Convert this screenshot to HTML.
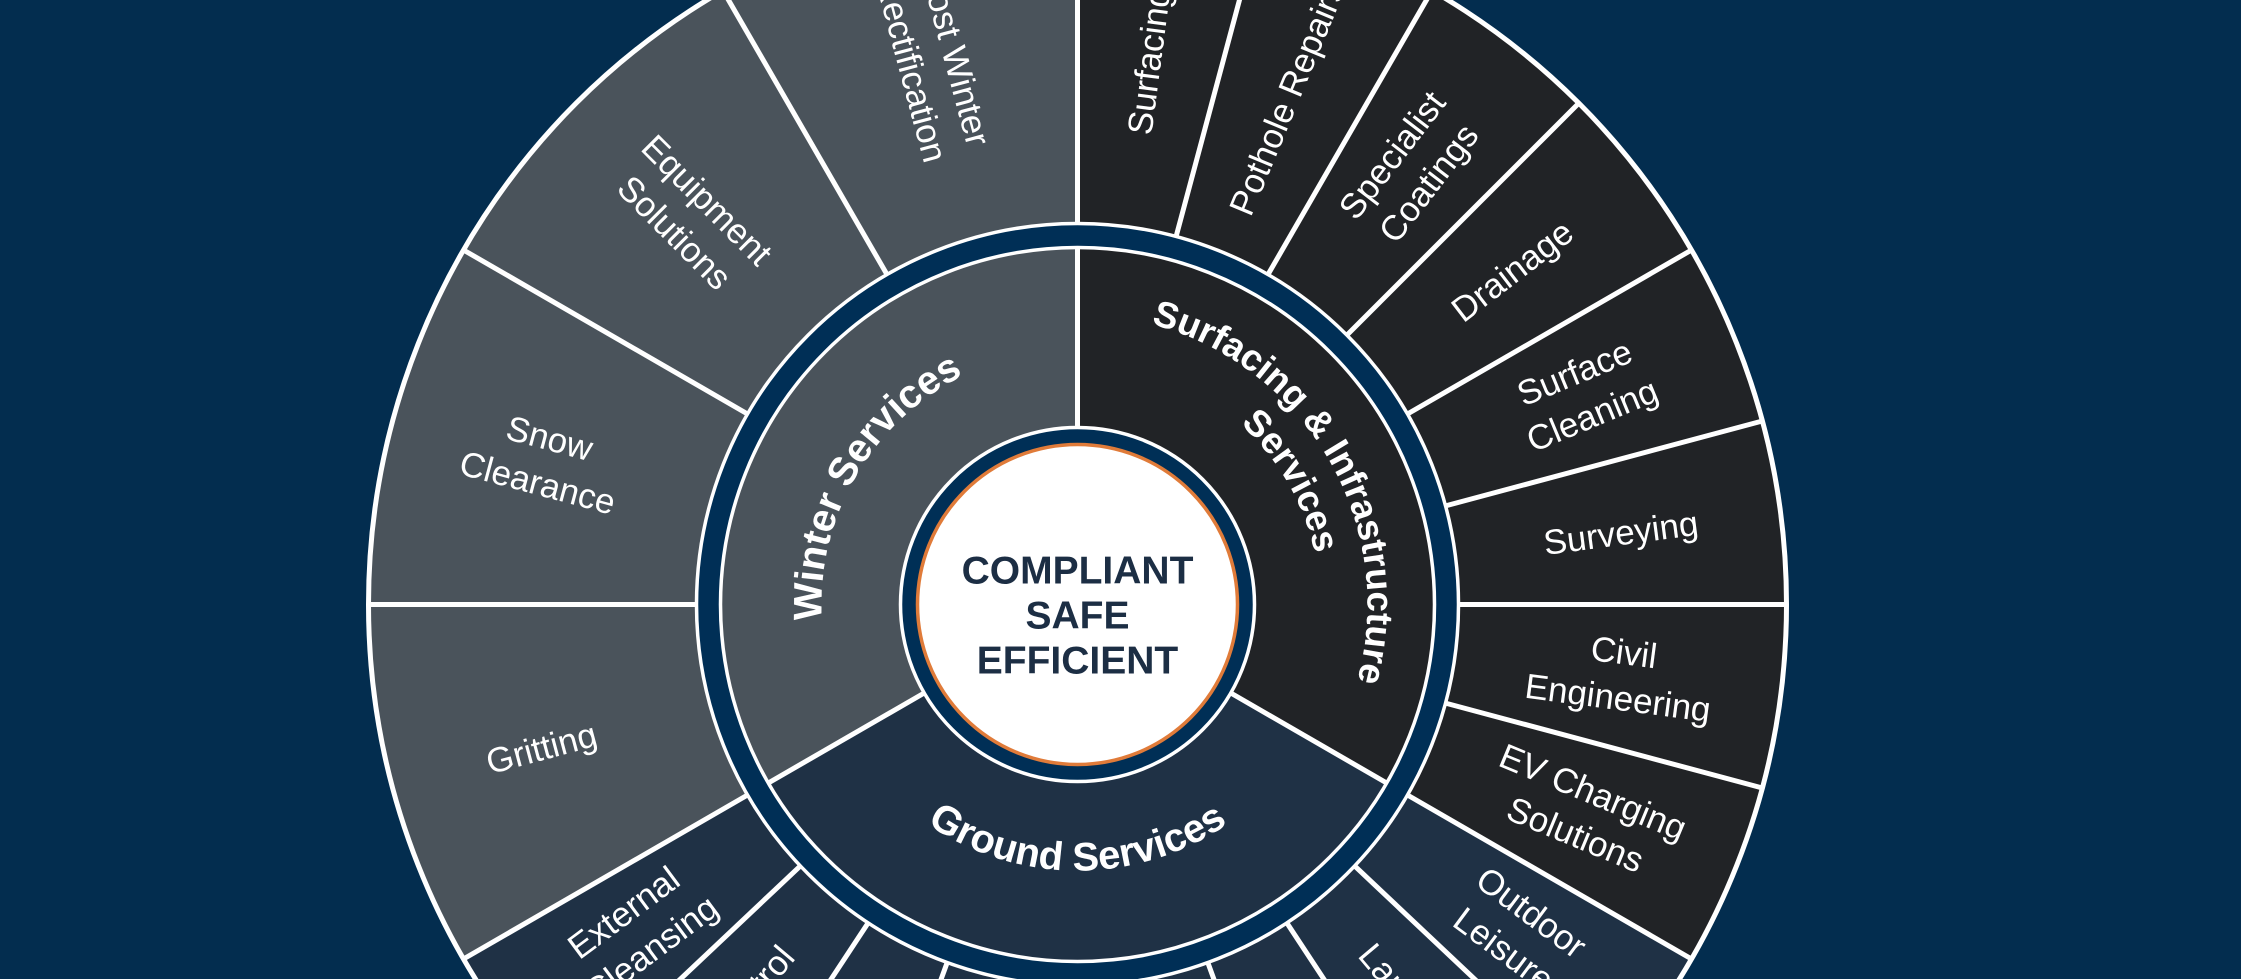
<!DOCTYPE html>
<html><head><meta charset="utf-8"><style>
html,body{margin:0;padding:0;background:#032d4f;width:2241px;height:979px;overflow:hidden;}
svg{display:block;}
.o{font-family:"Liberation Sans",sans-serif;font-size:35px;fill:#fff;text-anchor:middle;}
.b{font-family:"Liberation Sans",sans-serif;font-weight:bold;fill:#fff;}
</style></head><body>
<svg width="2241" height="979" viewBox="0 0 2241 979" xmlns="http://www.w3.org/2000/svg">
<rect width="2241" height="979" fill="#032d4f"/>
<g transform="translate(1077.5,604.5)">
  <path d="M0 0 L0 -709 A709 709 0 0 1 614 354.5 Z" fill="#212326"/>
  <path d="M0 0 L614 354.5 A709 709 0 0 1 -614 354.5 Z" fill="#1f3145"/>
  <path d="M0 0 L-614 354.5 A709 709 0 0 1 0 -709 Z" fill="#4a535b"/>
  <circle r="709" fill="none" stroke="#fff" stroke-width="5"/>
  <g stroke="#fff" stroke-width="5">
    <line x1="0" y1="-381" x2="0" y2="-709" transform="rotate(240)"/>
    <line x1="0" y1="-381" x2="0" y2="-709" transform="rotate(270)"/>
    <line x1="0" y1="-381" x2="0" y2="-709" transform="rotate(300)"/>
    <line x1="0" y1="-381" x2="0" y2="-709" transform="rotate(330)"/>
    <line x1="0" y1="-381" x2="0" y2="-709" transform="rotate(0)"/>
    <line x1="0" y1="-381" x2="0" y2="-709" transform="rotate(15)"/>
    <line x1="0" y1="-381" x2="0" y2="-709" transform="rotate(30)"/>
    <line x1="0" y1="-381" x2="0" y2="-709" transform="rotate(45)"/>
    <line x1="0" y1="-381" x2="0" y2="-709" transform="rotate(60)"/>
    <line x1="0" y1="-381" x2="0" y2="-709" transform="rotate(75)"/>
    <line x1="0" y1="-381" x2="0" y2="-709" transform="rotate(90)"/>
    <line x1="0" y1="-381" x2="0" y2="-709" transform="rotate(105)"/>
    <line x1="0" y1="-381" x2="0" y2="-709" transform="rotate(120)"/>
    <line x1="0" y1="-381" x2="0" y2="-709" transform="rotate(133.33)"/>
    <line x1="0" y1="-381" x2="0" y2="-709" transform="rotate(146.67)"/>
    <line x1="0" y1="-381" x2="0" y2="-709" transform="rotate(160)"/>
    <line x1="0" y1="-381" x2="0" y2="-709" transform="rotate(173.33)"/>
    <line x1="0" y1="-381" x2="0" y2="-709" transform="rotate(186.67)"/>
    <line x1="0" y1="-381" x2="0" y2="-709" transform="rotate(200)"/>
    <line x1="0" y1="-381" x2="0" y2="-709" transform="rotate(213.33)"/>
    <line x1="0" y1="-381" x2="0" y2="-709" transform="rotate(226.67)"/>
    <line x1="0" y1="-170" x2="0" y2="-360" transform="rotate(0)"/>
    <line x1="0" y1="-170" x2="0" y2="-360" transform="rotate(120)"/>
    <line x1="0" y1="-170" x2="0" y2="-360" transform="rotate(240)"/>
  </g>
  <circle r="369" fill="none" stroke="#002f56" stroke-width="24"/>
  <circle r="381" fill="none" stroke="#fff" stroke-width="3.5"/>
  <circle r="357" fill="none" stroke="#fff" stroke-width="3.5"/>
  <circle r="177" fill="#002f56" stroke="#fff" stroke-width="3.5"/>
  <circle r="160" fill="#fff" stroke="#e07b39" stroke-width="3.5"/>
  <g class="b" font-size="39" text-anchor="middle" style="fill:#1c2e44">
    <text x="0" y="-21">COMPLIANT</text>
    <text x="0" y="24">SAFE</text>
    <text x="0" y="69">EFFICIENT</text>
  </g>
  <defs>
    <path id="pw" d="M -221.7 128 A 256 256 0 0 1 0 -256"/>
    <path id="ps1" d="M 0 -290 A 290 290 0 0 1 251.1 145"/>
    <path id="ps2" d="M 0 -243 A 243 243 0 0 1 210.4 121.5"/>
    <path id="pg" d="M -230.4 133 A 266 266 0 0 0 230.4 133"/>
  </defs>
  <text class="b" font-size="40"><textPath href="#pw" startOffset="50%" text-anchor="middle">Winter Services</textPath></text>
  <text class="b" font-size="37"><textPath href="#ps1" startOffset="50%" text-anchor="middle">Surfacing &amp; Infrastructure</textPath></text>
  <text class="b" font-size="37"><textPath href="#ps2" startOffset="50%" text-anchor="middle">Services</textPath></text>
  <text class="b" font-size="40"><textPath href="#pg" startOffset="50%" text-anchor="middle">Ground Services</textPath></text>

  <g transform="rotate(-82.5)"><text class="o" transform="translate(548,0)" y="12">Surfacing</text></g>
  <g transform="rotate(-67.5)"><text class="o" transform="translate(548,0)" y="12">Pothole Repairs</text></g>
  <g transform="rotate(-52.5)"><text class="o" transform="translate(548,0)"><tspan x="0" y="-12">Specialist</tspan><tspan x="0" y="34">Coatings</tspan></text></g>
  <g transform="rotate(-37.5)"><text class="o" transform="translate(548,0)" y="12">Drainage</text></g>
  <g transform="rotate(-22.5)"><text class="o" transform="translate(548,0)"><tspan x="0" y="-12">Surface</tspan><tspan x="0" y="34">Cleaning</tspan></text></g>
  <g transform="rotate(-7.5)"><text class="o" transform="translate(548,0)" y="12">Surveying</text></g>
  <g transform="rotate(7.5)"><text class="o" transform="translate(548,0)"><tspan x="0" y="-12">Civil</tspan><tspan x="0" y="34">Engineering</tspan></text></g>
  <g transform="rotate(22.5)"><text class="o" transform="translate(548,0)"><tspan x="0" y="-12">EV Charging</tspan><tspan x="0" y="34">Solutions</tspan></text></g>
  <g transform="rotate(36.67)"><text class="o" transform="translate(548,0)"><tspan x="0" y="-12">Outdoor</tspan><tspan x="0" y="34">Leisure</tspan></text></g>
  <g transform="rotate(50)"><text class="o" transform="translate(548,0)" y="12">Landscaping</text></g>
  <g transform="rotate(63.33)"><text class="o" transform="translate(548,0)"><tspan x="0" y="-12">Grounds</tspan><tspan x="0" y="34">Maintenance</tspan></text></g>
  <g transform="rotate(76.67)"><text class="o" transform="translate(548,0)" y="12">Tree Works</text></g>
  <g transform="rotate(90)"><text class="o" transform="translate(548,0) rotate(180)" y="12">Sports Pitches</text></g>
  <g transform="rotate(103.33)"><text class="o" transform="translate(548,0) rotate(180)" y="12">Fencing</text></g>
  <g transform="rotate(116.67)"><text class="o" transform="translate(548,0) rotate(180)" y="12">Weed Control</text></g>
  <g transform="rotate(130)"><text class="o" transform="translate(548,0) rotate(180)" y="12">Pest Control</text></g>
  <g transform="rotate(143.33)"><text class="o" transform="translate(548,0) rotate(180)"><tspan x="0" y="-12">External</tspan><tspan x="0" y="34">Cleansing</tspan></text></g>
  <g transform="rotate(165)"><text class="o" transform="translate(555,0) rotate(180)" y="12">Gritting</text></g>
  <g transform="rotate(195)"><text class="o" transform="translate(553,0) rotate(180)"><tspan x="0" y="-12">Snow</tspan><tspan x="0" y="34">Clearance</tspan></text></g>
  <g transform="rotate(225)"><text class="o" transform="translate(548,0) rotate(180)"><tspan x="0" y="-12">Equipment</tspan><tspan x="0" y="34">Solutions</tspan></text></g>
  <g transform="rotate(255)"><text class="o" transform="translate(560,0) rotate(180)"><tspan x="0" y="-12">Post Winter</tspan><tspan x="0" y="34">Rectification</tspan></text></g>
</g>
</svg>
</body></html>
